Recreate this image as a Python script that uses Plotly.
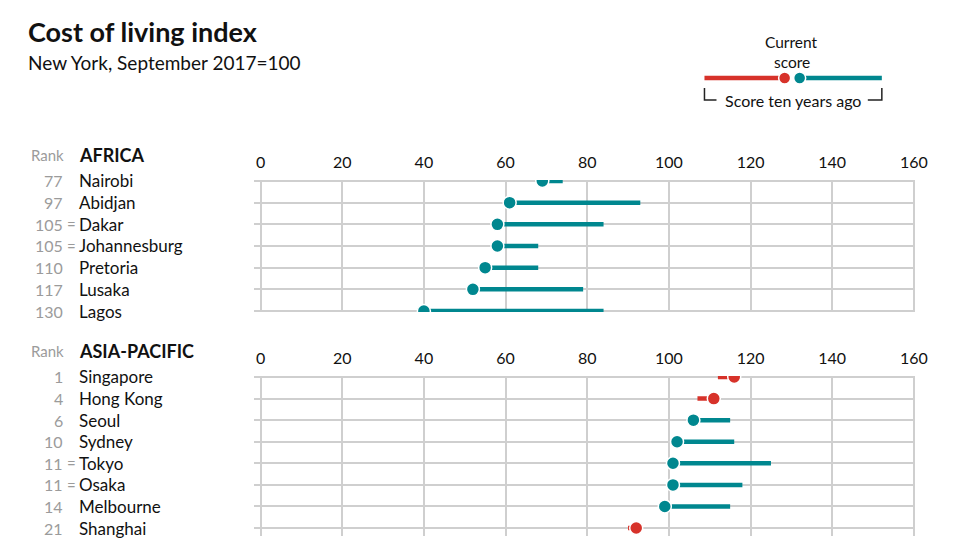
import plotly.graph_objects as go

# ---------------- data ----------------
africa_cities = ["Nairobi", "Abidjan", "Dakar", "Johannesburg", "Pretoria", "Lusaka", "Lagos"]
africa_ranks = ["77", "97", "105", "105", "110", "117", "130"]
africa_tied = [False, False, True, True, False, False, False]
africa_current = [69, 61, 58, 58, 55, 52, 40]
africa_past = [74, 93, 84, 68, 68, 79, 84]

asia_cities = ["Singapore", "Hong Kong", "Seoul", "Sydney", "Tokyo", "Osaka", "Melbourne", "Shanghai"]
asia_ranks = ["1", "4", "6", "10", "11", "11", "14", "21"]
asia_tied = [False, False, False, False, True, True, False, False]
asia_current = [116, 111, 106, 102, 101, 101, 99, 92]
asia_past = [112, 107, 115, 116, 125, 118, 115, 90]

x_ticks = [0, 20, 40, 60, 80, 100, 120, 140, 160]

# ---------------- style ----------------
W, H = 955, 553          # reference pixel frame
FIG_W = 970              # figure width (page capture is squeezed to 955 wide)
TEAL = "#00878f"
RED = "#d7322a"
GRID = "#cfcfcf"
GRAY = "#9b9b9b"
FONT = "Lato"

fig = go.Figure()


def px_x(p):
    return p / W


def px_y(p):
    return 1 - p / H


def add_panel(cities, ranks, tied, current, past, xa, ya, region, header_px):
    n = len(cities)
    tx, ty, rx, ry = [], [], [], []
    for i in range(n):
        if current[i] <= past[i]:
            tx += [current[i], past[i], None]
            ty += [i, i, None]
        else:
            rx += [past[i], current[i], None]
            ry += [i, i, None]
    if tx:
        fig.add_trace(go.Scatter(x=tx, y=ty, mode="lines", line=dict(color=TEAL, width=4.5),
                                 xaxis=xa, yaxis=ya, hoverinfo="skip", showlegend=False))
    if rx:
        fig.add_trace(go.Scatter(x=rx, y=ry, mode="lines", line=dict(color=RED, width=4.5),
                                 xaxis=xa, yaxis=ya, hoverinfo="skip", showlegend=False))
    colors = [TEAL if current[i] <= past[i] else RED for i in range(n)]
    fig.add_trace(go.Scatter(x=current, y=list(range(n)), mode="markers",
                             marker=dict(color=colors, size=13, line=dict(color="white", width=1.5)),
                             xaxis=xa, yaxis=ya, text=cities,
                             hovertemplate="%{text}: %{x}<extra></extra>", showlegend=False))
    for i in range(n):
        fig.add_annotation(x=px_x(65), y=i, xref="paper", yref=ya, text=ranks[i],
                           showarrow=False, xanchor="right", yanchor="middle",
                           font=dict(family=FONT, size=16, color=GRAY))
        if tied[i]:
            fig.add_annotation(x=px_x(71), y=i, xref="paper", yref=ya, text="=",
                               showarrow=False, xanchor="center", yanchor="middle",
                               font=dict(family=FONT, size=15, color=GRAY))
        fig.add_annotation(x=px_x(77), y=i, xref="paper", yref=ya, text=cities[i],
                           showarrow=False, xanchor="left", yanchor="middle",
                           font=dict(family=FONT, size=17, color="#111111"))
    # header row
    fig.add_annotation(x=px_x(66), y=px_y(header_px), xref="paper", yref="paper", text="Rank",
                       showarrow=False, xanchor="right", yanchor="middle",
                       font=dict(family=FONT, size=15, color=GRAY))
    fig.add_annotation(x=px_x(77), y=px_y(header_px), xref="paper", yref="paper", text="<b>" + region + "</b>",
                       showarrow=False, xanchor="left", yanchor="middle",
                       font=dict(family=FONT, size=18, color="#111111"))


add_panel(africa_cities, africa_ranks, africa_tied, africa_current, africa_past, "x", "y", "AFRICA", 155)
add_panel(asia_cities, asia_ranks, asia_tied, asia_current, asia_past, "x2", "y2", "ASIA-PACIFIC", 351)

xdom = [253.9 / W, 913.2 / W]
xaxis_common = dict(range=[-1.5, 160.3], domain=xdom, side="top", tickvals=x_ticks,
                    showgrid=True, gridcolor=GRID, gridwidth=2, zeroline=False, showline=False,
                    ticks="", tickfont=dict(family=FONT, size=16, color="#111111"),
                    ticklabelstandoff=8, fixedrange=True)
fig.update_layout(
    xaxis=dict(**xaxis_common, anchor="y"),
    xaxis2=dict(**xaxis_common, anchor="y2"),
    yaxis=dict(range=[6.05, -0.05], domain=[px_y(312.1), px_y(179.9)], tickvals=list(range(7)),
               showticklabels=False, showgrid=True, gridcolor=GRID, gridwidth=2, zeroline=False,
               ticks="", showline=False, fixedrange=True, anchor="x"),
    yaxis2=dict(range=[7.35, -0.05], domain=[px_y(535.6), px_y(375.9)], tickvals=list(range(8)),
                showticklabels=False, showgrid=True, gridcolor=GRID, gridwidth=2, zeroline=False,
                ticks="", showline=False, fixedrange=True, anchor="x2"),
    width=FIG_W, height=H, autosize=False, margin=dict(l=0, r=0, t=0, b=0),
    plot_bgcolor="white", paper_bgcolor="white",
    font=dict(family=FONT),
)

# ---------------- title ----------------
fig.add_annotation(x=px_x(26), y=px_y(32), xref="paper", yref="paper", text="<b>Cost of living index</b>",
                   showarrow=False, xanchor="left", yanchor="middle",
                   font=dict(family=FONT, size=27, color="#111111"))
fig.add_annotation(x=px_x(26), y=px_y(62), xref="paper", yref="paper", text="New York, September 2017=100",
                   showarrow=False, xanchor="left", yanchor="middle",
                   font=dict(family=FONT, size=19, color="#111111"))

# ---------------- key ----------------
fig.add_annotation(x=px_x(790), y=px_y(42), xref="paper", yref="paper", text="Current",
                   showarrow=False, xanchor="center", yanchor="middle",
                   font=dict(family=FONT, size=15.5, color="#111111"))
fig.add_annotation(x=px_x(790), y=px_y(62), xref="paper", yref="paper", text="score",
                   showarrow=False, xanchor="center", yanchor="middle",
                   font=dict(family=FONT, size=15.5, color="#111111"))
fig.add_shape(type="line", xref="paper", yref="paper", x0=px_x(703), x1=px_x(783), y0=px_y(78), y1=px_y(78),
              line=dict(color=RED, width=4.5))
fig.add_shape(type="line", xref="paper", yref="paper", x0=px_x(798), x1=px_x(880), y0=px_y(78), y1=px_y(78),
              line=dict(color=TEAL, width=4.5))
fig.add_shape(type="circle", xref="paper", yref="paper", x0=px_x(777), x1=px_x(789), y0=px_y(84), y1=px_y(72),
              fillcolor=RED, line=dict(color="white", width=1.5))
fig.add_shape(type="circle", xref="paper", yref="paper", x0=px_x(792), x1=px_x(804), y0=px_y(84), y1=px_y(72),
              fillcolor=TEAL, line=dict(color="white", width=1.5))
fig.add_shape(type="path", xref="paper", yref="paper",
              path=f"M {px_x(703)} {px_y(88)} L {px_x(703)} {px_y(100)} L {px_x(715)} {px_y(100)}",
              line=dict(color="#222222", width=1.5))
fig.add_shape(type="path", xref="paper", yref="paper",
              path=f"M {px_x(866)} {px_y(100)} L {px_x(880)} {px_y(100)} L {px_x(880)} {px_y(88)}",
              line=dict(color="#222222", width=1.5))
fig.add_annotation(x=px_x(791), y=px_y(100), xref="paper", yref="paper", text="Score ten years ago",
                   showarrow=False, xanchor="center", yanchor="middle",
                   font=dict(family=FONT, size=16, color="#111111"))

fig.write_html("out.html", config={"responsive": False, "displayModeBar": False},
               post_script="document.body.style.margin='0';document.body.style.overflow='hidden';")
